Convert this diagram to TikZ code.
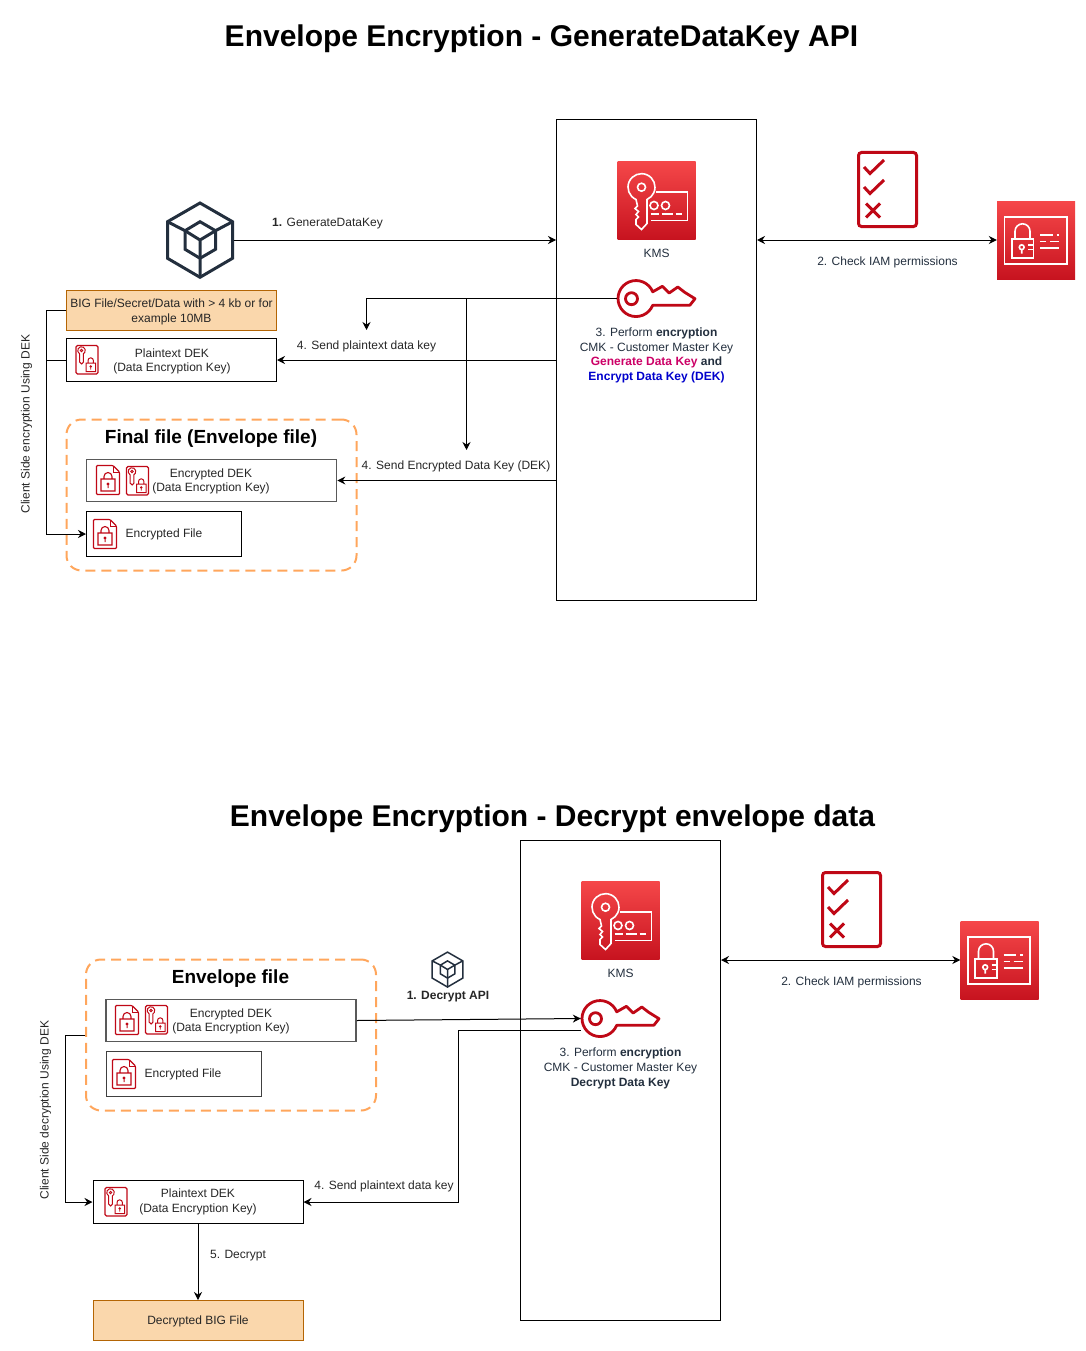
\documentclass[tikz,border=0pt]{standalone}
\usepackage{fontspec}
\setmainfont{Liberation Sans}
\usepackage{tikz}
\usetikzlibrary{arrows.meta,positioning}
\usepackage{xcolor}
\definecolor{awsred}{HTML}{BF0816}
\definecolor{awstop}{HTML}{F54749}
\definecolor{awsbot}{HTML}{C7131F}
\definecolor{awsink}{HTML}{232F3E}
\definecolor{peach}{HTML}{FAD7AC}
\definecolor{peachline}{HTML}{B46504}
\definecolor{dashline}{HTML}{FFA65C}
\definecolor{genpink}{HTML}{CC0066}
\definecolor{encblue}{HTML}{0000CC}

\begin{document}
\begin{tikzpicture}[x=1pt,y=-1pt,
  title/.style={font=\fontsize{30}{36}\selectfont\bfseries,inner sep=0},
  head/.style={font=\fontsize{19}{22}\selectfont\bfseries,inner sep=0},
  lbl/.style={font=\fontsize{12}{14.7}\selectfont,align=center,inner sep=0,text=black!85},
  awslbl/.style={lbl,text=awsink},
  filebox/.style={draw,line width=1pt,inner sep=0},
  graybox/.style={draw=black!65,line width=1.6pt,inner sep=0},
  peachbox/.style={draw=peachline,fill=peach,line width=1pt,inner sep=0},
  kmsbox/.style={draw,line width=1pt,inner sep=0,minimum width=200pt,minimum height=480pt},
  envbox/.style={draw=dashline,line width=2pt,dash pattern=on 10pt off 6pt,rounded corners=15pt,inner sep=0},
  iconbox/.style={inner sep=0},
  flow/.style={-{Stealth[length=8pt,width=8pt]},line width=1pt},
  both/.style={{Stealth[length=8pt,width=8pt]}-{Stealth[length=8pt,width=8pt]},line width=1pt},
  pics/kmsicon/.style={code={
    \shade[top color=awstop,bottom color=awsbot] (0,0) rectangle (78,78);
    \begin{scope}[white,line width=1.6pt]
    \draw (18.5,38) arc[start angle=-114,end angle=-426,radius=13.5pt] -- (29.5,62) -- (24,68) -- (18.5,63) -- (18.5,58) -- (21,55.5) -- (18.5,53) -- (21,50) -- (17.5,47) -- (20,44.5) -- cycle;
    \draw (24,25.7) circle[radius=4];
    \draw (38,30.7) -- (70,30.7) -- (70,59) -- (33,59);
    \draw (36.5,44) circle[radius=4] (48,44) circle[radius=4];
    \draw (33,52.3) -- (41,52.3) (44,52.3) -- (55,52.3) (58,52.3) -- (64,52.3);
    \end{scope}}},
  pics/iamicon/.style={code={
    \shade[top color=awstop,bottom color=awsbot] (0,0) rectangle (78,78);
    \begin{scope}[white,line width=1.6pt]
    \draw (7.3,15.7) rectangle (69.7,62.3);
    \draw (14.7,37.3) rectangle (36.3,56.7);
    \draw (18,37.3) -- (18,29.8) arc[start angle=180,end angle=0,radius=7.5pt] -- (33,37.3);
    \draw (24.7,45.7) circle[radius=2.4] (24.7,48) -- (24.7,52);
    \draw (31,43.5) -- (36.3,43.5) (31,48) -- (36.3,48);
    \draw (43,33.3) -- (55.7,33.3) (59.7,33.3) -- (62.3,33.3);
    \draw (43,39.8) -- (49,39.8) (53,39.8) -- (62.3,39.8);
    \draw (43,46.3) -- (62.3,46.3);
    \end{scope}}},
  pics/checkicon/.style={code={
    \draw[awsred,line width=3pt,rounded corners=3pt] (1.5,1.5) rectangle (59.5,75.5);
    \draw[awsred,line width=3pt] (7,16) -- (13,22.5) -- (27,9) (7,36) -- (13,42.5) -- (27,29);
    \draw[awsred,line width=3pt] (9,52.5) -- (23,66.5) (23,52.5) -- (9,66.5);}},
  pics/cubeicon/.style={code={
    \draw[awsink,line width=#1,line join=miter] (0,-37) -- (32.5,-18.3) -- (32.5,18.3) -- (0,37.3) -- (-32.5,18.3) -- (-32.5,-18.3) -- cycle;
    \draw[awsink,line width=#1] (0,-18.3) -- (15.5,-9.3) -- (15.5,9.3) -- (0,18.3) -- (-15,9.3) -- (-15,-9.3) -- cycle;
    \draw[awsink,line width=#1] (-32.5,-18.3) -- (-15,-9.3) -- (0,0) -- (15.5,-9.3) -- (32.5,-18.3) (0,0) -- (0,37.3);}},
  pics/keyicon/.style={code={
    \draw[awsred,line width=2.8pt,line join=round] (35.7,12.8) arc[start angle=22,end angle=338,radius=18pt] -- (72.9,26.2) -- (78,19.7) -- (67.7,13.3) -- (60.8,8) -- (52.2,14) -- (45.4,7.3) -- cycle;
    \draw[awsred,line width=2.8pt] (14.5,19.7) circle[radius=6];}},
  pics/lockfile/.style={code={
    \draw[awsred,line width=1.1pt,rounded corners=1pt] (0.5,0.5) -- (17,0.5) -- (23.5,7) -- (23.5,29.5) -- (0.5,29.5) -- cycle;
    \draw[awsred,line width=.8pt] (17,0.5) -- (17,7) -- (23.5,7);
    \draw[awsred,line width=1.1pt] (5,14) rectangle (19,26) (8,14) -- (8,11.5) arc[start angle=180,end angle=0,radius=4pt] -- (16,14);
    \draw[awsred,line width=1pt] (12,19) circle[radius=1] (12,20) -- (12,23);}},
  pics/keyfile/.style={code={
    \draw[awsred,line width=1.1pt,rounded corners=1.5pt] (0.5,0.5) rectangle (22.5,29);
    \draw[awsred,line width=1pt] (4.1,8.8) arc[start angle=-120,end angle=-420,radius=3.8pt] -- (8,17) -- (6.2,19) -- (4,17) -- cycle;
    \draw[awsred,line width=.8pt] (6,5.5) circle[radius=1.2];
    \draw[awsred,line width=1pt] (10.5,18) rectangle (20,26.5) (12.5,18) -- (12.5,15.5) arc[start angle=180,end angle=0,radius=2.7pt] -- (17.9,18);
    \draw[awsred,line width=.8pt] (15.2,21.5) circle[radius=.8] (15.2,22.3) -- (15.2,24.5);}}]

\useasboundingbox (0,0) rectangle (1085,1351);

\node[title] (title1) at (541.5,39) {Envelope Encryption - GenerateDataKey API};

\node[kmsbox] (kms1) at (656.5,360) {};
\pic at (617.5,161.5) {kmsicon};
\node[awslbl] (kmstext1) at (656.5,253.5) {KMS};
\node[iconbox,minimum width=78pt,minimum height=39pt] (key1) at (656,298.5) {};
\pic at (617,279) {keyicon};
\node[awslbl] (perform1) at (656.5,355.5) {3. Perform \textbf{encryption}\\CMK - Customer Master Key\\\textcolor{genpink}{\textbf{Generate Data Key}} \textbf{and}\\\textcolor{encblue}{\textbf{Encrypt Data Key (DEK)}}};

\node[iconbox,minimum width=68pt,minimum height=78pt] (cube1) at (200,240) {};
\pic at (200,240) {cubeicon=3pt};
\node[iconbox,minimum width=78pt,minimum height=78pt] (iam1) at (1036,240) {};
\pic at (997,201.5) {iamicon};
\pic at (857,151) {checkicon};

\node[peachbox,minimum width=210pt,minimum height=40pt] (bigfile) at (171.5,310.5) {};
\node[lbl] (bigtext) at (171.5,312) {BIG File/Secret/Data with > 4 kb or for\\example 10MB};
\node[filebox,minimum width=210pt,minimum height=43pt] (plain1) at (171.5,360) {};
\pic at (75.5,345) {keyfile};
\node[lbl] (plaintext1) at (172,361.5) {Plaintext DEK\\(Data Encryption Key)};

\node[envbox,minimum width=290pt,minimum height=151pt] (final) at (211.5,495) {};
\node[head] (finaltitle) at (211,439) {Final file (Envelope file)};
\node[graybox,minimum width=250pt,minimum height=42pt] (edek1) at (211.5,480.5) {};
\pic at (96,465) {lockfile};
\pic at (126,466) {keyfile};
\node[lbl] (edektext1) at (211,481.5) {Encrypted DEK\\(Data Encryption Key)};
\node[filebox,minimum width=155pt,minimum height=45pt] (encfile1) at (164,534) {};
\pic at (93,519) {lockfile};
\node[lbl] (encfiletext1) at (164,534.5) {Encrypted File};

\coordinate (rail1) at (46.5,310.5);
\coordinate (drop1) at (366.5,330);
\coordinate (drop2) at (466.5,450);

\draw[flow] (cube1.east) -- (cube1.east -| kms1.west);
\draw[both] (iam1.west -| kms1.east) -- (iam1.west);
\draw[flow] (key1.west) -| (drop1);
\draw[flow] (key1.west) -| (drop2);
\draw[flow] (plain1.east -| kms1.west) -- (plain1.east);
\draw[flow] (edek1.east -| kms1.west) -- (edek1.east);
\draw[flow] (bigfile.west) -- (rail1) |- (encfile1.west);
\draw[line width=1pt] (plain1.west) -- (plain1.west -| rail1);

\node[lbl] (step1) at (327.5,224) {\textbf{1.} GenerateDataKey};
\node[awslbl] (step2) at (887.5,262) {2. Check IAM permissions};
\node[lbl] (step4a) at (366.5,346) {4. Send plaintext data key};
\node[lbl] (step4b) at (456,466) {4. Send Encrypted Data Key (DEK)};
\node[lbl,rotate=90] (side1) at (26.5,424) {Client Side encryption Using DEK};

\node[title] (title2) at (552.5,819) {Envelope Encryption - Decrypt envelope data};

\node[kmsbox] (kms2) at (620.5,1080) {};
\pic at (581.5,881.5) {kmsicon};
\node[awslbl] (kmstext2) at (620.5,973.5) {KMS};
\node[iconbox,minimum width=78pt,minimum height=39pt] (key2) at (620,1018.5) {};
\pic at (581,999) {keyicon};
\node[awslbl] (perform2) at (620.5,1068.5) {3. Perform \textbf{encryption}\\CMK - Customer Master Key\\\textbf{Decrypt Data Key}};

\node[iconbox,minimum width=78pt,minimum height=78pt] (iam2) at (999.5,960) {};
\pic at (960.5,921.5) {iamicon};
\pic at (821,871) {checkicon};
\pic[scale=.47] at (447.5,969.5) {cubeicon=1.5pt};
\node[lbl] (apitext) at (448,997) {\textbf{1. Decrypt API}};

\node[envbox,minimum width=290pt,minimum height=151pt] (envelope) at (231,1035) {};
\node[head] (envtitle) at (230.5,979) {Envelope file};
\node[graybox,minimum width=250pt,minimum height=42pt] (edek2) at (231,1020.5) {};
\pic at (115,1005) {lockfile};
\pic at (145,1005) {keyfile};
\node[lbl] (edektext2) at (231,1021.5) {Encrypted DEK\\(Data Encryption Key)};
\node[filebox,draw=black!75,minimum width=155pt,minimum height=45pt] (encfile2) at (183.5,1074) {};
\pic at (112,1059) {lockfile};
\node[lbl] (encfiletext2) at (183,1074.5) {Encrypted File};

\node[filebox,minimum width=210pt,minimum height=43pt] (plain2) at (198,1202) {};
\pic at (104.5,1187) {keyfile};
\node[lbl] (plaintext2) at (198,1202) {Plaintext DEK\\(Data Encryption Key)};
\node[peachbox,minimum width=210pt,minimum height=40pt] (plainfile) at (198,1320.5) {};
\node[lbl] (plainfiletext) at (198,1321) {Decrypted BIG File};

\coordinate (keyfoot) at (581,1030.5);
\coordinate (turn) at (458.5,1030.5);

\draw[both] (iam2.west -| kms2.east) -- (iam2.west);
\draw[flow] (edek2.east) -- (key2.west);
\draw[flow] (keyfoot) -- (turn) |- (plain2.east);
\draw[flow] (envelope.west) -- ++(-20,0) |- (plain2.west);
\draw[flow] (plain2.south) -- (plainfile.north);

\node[awslbl] (step2b) at (851.5,982) {2. Check IAM permissions};
\node[lbl] (step4c) at (384,1186) {4. Send plaintext data key};
\node[lbl] (step5) at (238,1256) {5. Decrypt};
\node[lbl,rotate=90] (side2) at (45.5,1110) {Client Side decryption Using DEK};

\end{tikzpicture}
\end{document}
